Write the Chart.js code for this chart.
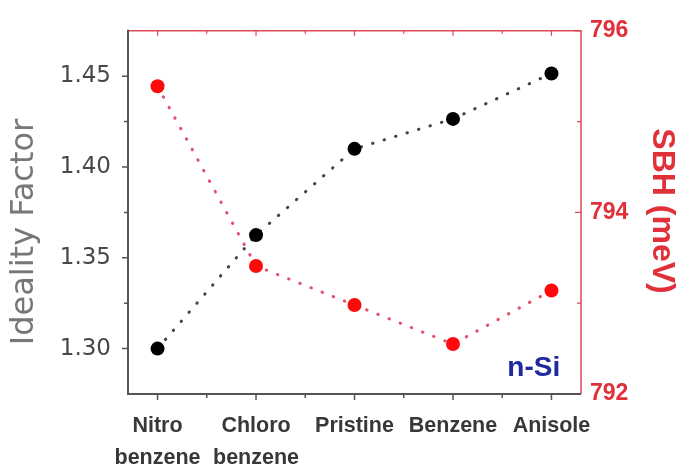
<!DOCTYPE html>
<html>
<head>
<meta charset="utf-8">
<script src="https://cdn.jsdelivr.net/npm/chart.js@4.4.0/dist/chart.umd.min.js"></script>
<style>
html,body{margin:0;padding:0;background:#fff;}
</style>
</head>
<body>
<canvas id="myChart" width="679" height="468"></canvas>
<script>
// data
var categories = [["Nitro", "benzene"], ["Chloro", "benzene"], "Pristine", "Benzene", "Anisole"];
var idealityFactor = [1.300, 1.3625, 1.410, 1.4265, 1.4515];
var sbhMeV = [795.39, 793.41, 792.98, 792.55, 793.14];
var leftTicks = [1.30, 1.35, 1.40, 1.45];
var leftMinor = [1.325, 1.375, 1.425];
var rightTicks = [792, 794, 796];
var rightMinor = [793, 795];
var xMinor = [0.5, 1.5, 2.5, 3.5];

var GRAY = '#555';
var RED = '#dc4a57';

var framePlugin = {
    id: 'frame',
    beforeDatasetsDraw: function (chart) {
        var c = chart.ctx, a = chart.chartArea;
        var x = chart.scales.x, y = chart.scales.y, y2 = chart.scales.y2;
        c.save();
        c.lineCap = 'butt';

        // top + right border (red)
        c.strokeStyle = RED;
        c.lineWidth = 1.5;
        c.beginPath();
        c.moveTo(a.left, a.top);
        c.lineTo(a.right, a.top);
        c.lineTo(a.right, a.bottom);
        c.stroke();

        // top ticks, pointing in
        c.lineWidth = 1.2;
        c.beginPath();
        for (var i = 0; i < categories.length; i++) {
            var px = x.getPixelForValue(i);
            c.moveTo(px, a.top); c.lineTo(px, a.top + 5);
        }
        xMinor.forEach(function (v) {
            var px = x.getPixelForValue(v);
            c.moveTo(px, a.top); c.lineTo(px, a.top + 3);
        });
        // right ticks, pointing in
        rightTicks.forEach(function (v) {
            var py = y2.getPixelForValue(v);
            c.moveTo(a.right, py); c.lineTo(a.right - 6, py);
        });
        rightMinor.forEach(function (v) {
            var py = y2.getPixelForValue(v);
            c.moveTo(a.right, py); c.lineTo(a.right - 4, py);
        });
        c.stroke();

        // left + bottom border (gray)
        c.strokeStyle = GRAY;
        c.lineWidth = 2;
        c.beginPath();
        c.moveTo(a.left, a.top - 1);
        c.lineTo(a.left, a.bottom);
        c.lineTo(a.right, a.bottom);
        c.stroke();

        c.lineWidth = 1.5;
        c.beginPath();
        for (var j = 0; j < categories.length; j++) {
            var bx = x.getPixelForValue(j);
            c.moveTo(bx, a.bottom); c.lineTo(bx, a.bottom + 6);
        }
        xMinor.forEach(function (v) {
            var px = x.getPixelForValue(v);
            c.moveTo(px, a.bottom); c.lineTo(px, a.bottom + 4);
        });
        leftTicks.forEach(function (v) {
            var py = y.getPixelForValue(v);
            c.moveTo(a.left, py); c.lineTo(a.left - 6, py);
        });
        leftMinor.forEach(function (v) {
            var py = y.getPixelForValue(v);
            c.moveTo(a.left, py); c.lineTo(a.left - 4, py);
        });
        c.stroke();
        c.restore();
    },
    afterDraw: function (chart) {
        var c = chart.ctx;
        var x = chart.scales.x, y2 = chart.scales.y2;
        c.save();
        c.textAlign = 'center';
        c.textBaseline = 'middle';

        // left axis title
        c.save();
        c.translate(25, 232);
        c.rotate(-Math.PI / 2);
        c.fillStyle = '#777';
        c.font = '32px "DejaVu Sans"';
        c.fillText('Ideality Factor', 0, 0);
        c.restore();

        // right axis title
        c.save();
        c.translate(662, 211);
        c.rotate(Math.PI / 2);
        c.fillStyle = '#e0303a';
        c.font = 'bold 32px "Liberation Sans"';
        c.fillText('SBH (meV)', 0, 0);
        c.restore();

        // sample label
        c.fillStyle = '#1f2a9c';
        c.font = 'bold 28px "Liberation Sans"';
        c.fillText('n-Si', x.getPixelForValue(3.82), y2.getPixelForValue(792.28));
        c.restore();
    }
};

var ctx = document.getElementById('myChart').getContext('2d');
var chart = new Chart(ctx, {
    type: 'line',
    data: {
        datasets: [{
            label: 'Ideality Factor',
            data: idealityFactor.map(function (v, i) { return { x: i, y: v }; }),
            yAxisID: 'y',
            borderColor: '#444',
            borderWidth: 3,
            borderDash: [0.5, 11.5],
            borderCapStyle: 'round',
            pointRadius: 7,
            pointBorderWidth: 0,
            pointBackgroundColor: '#000',
            tension: 0
        }, {
            label: 'SBH',
            data: sbhMeV.map(function (v, i) { return { x: i, y: v }; }),
            yAxisID: 'y2',
            borderColor: '#e2506a',
            borderWidth: 3,
            borderDash: [0.5, 11.5],
            borderCapStyle: 'round',
            pointRadius: 7,
            pointBorderWidth: 0,
            pointBackgroundColor: '#ff0a0a',
            tension: 0
        }]
    },
    options: {
        responsive: false,
        animation: false,
        devicePixelRatio: 1,
        layout: { padding: { top: 27, left: 0, right: 0, bottom: 0 } },
        plugins: { legend: { display: false }, tooltip: { enabled: false } },
        scales: {
            x: {
                type: 'linear',
                min: -0.3,
                max: 4.3,
                grid: { display: false, drawTicks: false },
                border: { display: false },
                afterBuildTicks: function (s) {
                    s.ticks = categories.map(function (c, i) { return { value: i }; });
                },
                afterFit: function (s) { s.height = 74; },
                ticks: {
                    autoSkip: false,
                    maxRotation: 0,
                    padding: 16,
                    color: '#383838',
                    font: { family: '"Liberation Sans", Arial', size: 21.5, weight: 'bold', lineHeight: 1.5 },
                    callback: function (v) { return categories[v]; }
                }
            },
            y: {
                position: 'left',
                min: 1.275,
                max: 1.475,
                grid: { display: false, drawTicks: false },
                border: { display: false },
                afterBuildTicks: function (s) {
                    s.ticks = leftTicks.map(function (v) { return { value: v }; });
                },
                afterFit: function (s) { s.width = 128; },
                ticks: {
                    padding: 17,
                    color: '#484848',
                    font: { family: '"DejaVu Sans"', size: 23 },
                    callback: function (v) { return v.toFixed(2); }
                }
            },
            y2: {
                position: 'right',
                min: 792,
                max: 796,
                grid: { display: false, drawTicks: false },
                border: { display: false },
                afterBuildTicks: function (s) {
                    s.ticks = rightTicks.map(function (v) { return { value: v }; });
                },
                afterFit: function (s) { s.width = 98; },
                ticks: {
                    padding: 9,
                    color: '#e0303a',
                    font: { family: '"Liberation Sans", Arial', size: 23, weight: 'bold' },
                    callback: function (v) { return String(v); }
                }
            }
        }
    },
    plugins: [framePlugin]
});
</script>
</body>
</html>
